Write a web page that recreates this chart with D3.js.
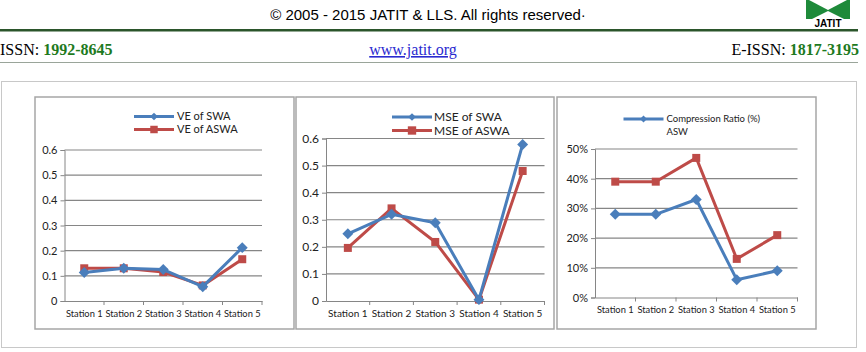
<!DOCTYPE html>
<html>
<head>
<meta charset="utf-8">
<script src="https://cdn.jsdelivr.net/npm/d3@7"></script>
<style>
  body { margin: 0; background: #fff; }
  svg { display: block; }
</style>
</head>
<body>
<div id="page"></div>
<script>
var stations = ["Station 1", "Station 2", "Station 3", "Station 4", "Station 5"];

var veSWA  = [0.113, 0.13, 0.125, 0.057, 0.212];
var veASWA = [0.13, 0.13, 0.115, 0.062, 0.166];

var mseSWA  = [0.248, 0.32, 0.289, 0.005, 0.578];
var mseASWA = [0.196, 0.342, 0.218, 0.005, 0.48];

var crSWA = [28, 28, 33, 6, 9];
var crASW = [39, 39, 47, 13, 21];

var ticksDec = [0, 0.1, 0.2, 0.3, 0.4, 0.5, 0.6];
var ticksPct = [0, 10, 20, 30, 40, 50];

var blue = "#4a7ebb", red = "#be4b48";
var W = 866, H = 352;

var svg = d3.select("#page").append("svg")
    .attr("width", W)
    .attr("height", H);

// page header
svg.append("text")
    .attr("x", 428).attr("y", 20)
    .attr("text-anchor", "middle")
    .style("font-family", "Liberation Sans, Arial")
    .style("font-size", "15px")
    .text("\u00a9 2005 - 2015 JATIT & LLS. All rights reserved\u00b7");

// logo
var logo = svg.append("g");
logo.append("polygon").attr("points", "806,0 850,0 850,19 806,19").attr("fill", "#1e8a3a");
logo.append("polygon").attr("points", "809,0 847,0 828,10").attr("fill", "#fff");
logo.append("polygon").attr("points", "812,19 844,19 828,11").attr("fill", "#fff");
logo.append("text")
    .attr("x", 828).attr("y", 27)
    .attr("text-anchor", "middle")
    .style("font-family", "Liberation Sans, Arial")
    .style("font-weight", "bold")
    .style("font-size", "10px")
    .text("JATIT");

svg.append("rect").attr("x", 0).attr("y", 29).attr("width", 858).attr("height", 2.5).attr("fill", "#2b552b");
svg.append("rect").attr("x", 0).attr("y", 62).attr("width", 858).attr("height", 1).attr("fill", "#9aa59a");

var issn = svg.append("text")
    .attr("x", 0).attr("y", 55)
    .style("font-family", "Liberation Serif, Times New Roman")
    .style("font-size", "16px");
issn.append("tspan").text("ISSN: ");
issn.append("tspan").attr("fill", "#1e7a1e").style("font-weight", "bold").text("1992-8645");

svg.append("text")
    .attr("x", 413).attr("y", 55)
    .attr("text-anchor", "middle")
    .attr("fill", "#2a2ad0")
    .style("font-family", "Liberation Serif, Times New Roman")
    .style("font-size", "16px")
    .style("text-decoration", "underline")
    .text("www.jatit.org");

var eissn = svg.append("text")
    .attr("x", 859).attr("y", 55)
    .attr("text-anchor", "end")
    .style("font-family", "Liberation Serif, Times New Roman")
    .style("font-size", "16px");
eissn.append("tspan").text("E-ISSN: ");
eissn.append("tspan").attr("fill", "#1e7a1e").style("font-weight", "bold").text("1817-3195");

// outer frame around the figure
svg.append("rect")
    .attr("x", 1.5).attr("y", 81.5)
    .attr("width", 855).attr("height", 266)
    .attr("fill", "none")
    .attr("stroke", "#c8c8c8");

// diamond = square turned by 45 degrees (d3's own diamond is too tall)
function marker(shape, size) {
    return d3.symbol().type(d3.symbolSquare).size(size)();
}
function markerRot(shape) {
    return shape == "diamond" ? " rotate(45)" : "";
}

function drawChart(c) {
    var g = svg.append("g");

    g.append("rect")
        .attr("x", c.box[0]).attr("y", c.box[1])
        .attr("width", c.box[2]).attr("height", c.box[3])
        .attr("fill", "#fff")
        .attr("stroke", "#a6a6a6")
        .attr("stroke-width", 1.5);

    var x = d3.scaleBand().domain(stations).range([c.left, c.right]);
    var y = d3.scaleLinear().domain([0, c.max]).range([c.bottom, c.top]);

    // gridlines
    g.selectAll(".grid")
        .data(c.ticks.slice(1))
        .enter().append("line")
        .attr("x1", c.left).attr("x2", c.right)
        .attr("y1", function (d) { return y(d); })
        .attr("y2", function (d) { return y(d); })
        .attr("stroke", "#868686")
        .attr("stroke-width", 1.2);

    var yAxis = d3.axisLeft(y)
        .tickValues(c.ticks)
        .tickSize(4)
        .tickFormat(c.fmt);
    var ya = g.append("g")
        .attr("transform", "translate(" + c.left + ",0)")
        .call(yAxis);
    ya.select(".domain").attr("stroke", "#868686");
    ya.selectAll(".tick line").attr("stroke", "#868686");
    ya.selectAll("text")
        .attr("x", -7)
        .attr("fill", "#222")
        .style("font-family", "Lato, Open Sans, sans-serif")
        .style("font-size", c.yFont + "px");

    var xAxis = d3.axisBottom(x).tickSize(0).tickPadding(9);
    var xa = g.append("g")
        .attr("transform", "translate(0," + c.bottom + ")")
        .call(xAxis);
    xa.select(".domain").attr("stroke", "#868686");
    xa.selectAll("text")
        .attr("fill", "#222")
        .style("font-family", "Lato, Open Sans, sans-serif")
        .style("font-size", c.xFont + "px");

    // tick marks at the category boundaries
    g.selectAll(".xtick")
        .data(stations)
        .enter().append("line")
        .attr("x1", function (d) { return x(d) + x.bandwidth(); })
        .attr("x2", function (d) { return x(d) + x.bandwidth(); })
        .attr("y1", c.bottom).attr("y2", c.bottom + 4)
        .attr("stroke", "#868686");

    var line = d3.line()
        .x(function (d, i) { return x(stations[i]) + x.bandwidth() / 2; })
        .y(function (d) { return y(d); });

    // red series drawn first, blue on top
    var series = [
        { vals: c.s2, color: red, shape: "square", size: 64 },
        { vals: c.s1, color: blue, shape: "diamond", size: 60 }
    ];

    series.forEach(function (s) {
        g.append("path")
            .datum(s.vals)
            .attr("d", line)
            .attr("fill", "none")
            .attr("stroke", s.color)
            .attr("stroke-width", 3)
            .attr("stroke-linejoin", "round");
        g.selectAll(".pt-" + s.shape)
            .data(s.vals)
            .enter().append("path")
            .attr("d", marker(s.shape, s.size))
            .attr("transform", function (d, i) {
                return "translate(" + (x(stations[i]) + x.bandwidth() / 2) + "," + y(d) + ")" + markerRot(s.shape);
            })
            .attr("fill", s.color);
    });

    // legend
    c.legend.forEach(function (l, i) {
        var ly = c.legY + i * c.legGap;
        if (l.shape) {
            g.append("line")
                .attr("x1", c.legX).attr("x2", c.legX + 40)
                .attr("y1", ly).attr("y2", ly)
                .attr("stroke", l.color)
                .attr("stroke-width", 3);
            g.append("path")
                .attr("d", marker(l.shape, l.size))
                .attr("transform", "translate(" + (c.legX + 20) + "," + ly + ")" + markerRot(l.shape))
                .attr("fill", l.color);
        }
        g.append("text")
            .attr("x", c.legX + c.legText).attr("y", ly)
            .attr("dy", "0.35em")
            .attr("fill", "#222")
            .style("font-family", "Lato, Open Sans, sans-serif")
            .style("font-size", c.legFont + "px")
            .text(l.label);
    });
}

drawChart({
    box: [35, 97, 259, 232],
    left: 64.5, right: 262, top: 150, bottom: 301,
    max: 0.6, ticks: ticksDec, fmt: d3.format(""), yFont: 11, xFont: 9.3,
    s1: veSWA, s2: veASWA,
    legX: 134, legY: 116.5, legGap: 13, legText: 43, legFont: 11,
    legend: [
        { label: "VE of SWA", color: blue, shape: "diamond", size: 30 },
        { label: "VE of ASWA", color: red, shape: "square", size: 56 }
    ]
});

drawChart({
    box: [296, 97, 258, 232],
    left: 326, right: 544.5, top: 138.5, bottom: 301,
    max: 0.6, ticks: ticksDec, fmt: d3.format(""), yFont: 12, xFont: 10,
    s1: mseSWA, s2: mseASWA,
    legX: 392, legY: 117, legGap: 13.5, legText: 42, legFont: 12,
    legend: [
        { label: "MSE of SWA", color: blue, shape: "diamond", size: 30 },
        { label: "MSE of ASWA", color: red, shape: "square", size: 70 }
    ]
});

drawChart({
    box: [557, 97, 259, 232],
    left: 595, right: 797.5, top: 149, bottom: 297.5,
    max: 50, ticks: ticksPct, fmt: function (d) { return d + "%"; }, yFont: 11, xFont: 9.3,
    s1: crSWA, s2: crASW,
    legX: 623.5, legY: 119, legGap: 12.5, legText: 43, legFont: 9.5,
    legend: [
        { label: "Compression Ratio (%)", color: blue, shape: "diamond", size: 24 },
        { label: "ASW" }
    ]
});
</script>
</body>
</html>
